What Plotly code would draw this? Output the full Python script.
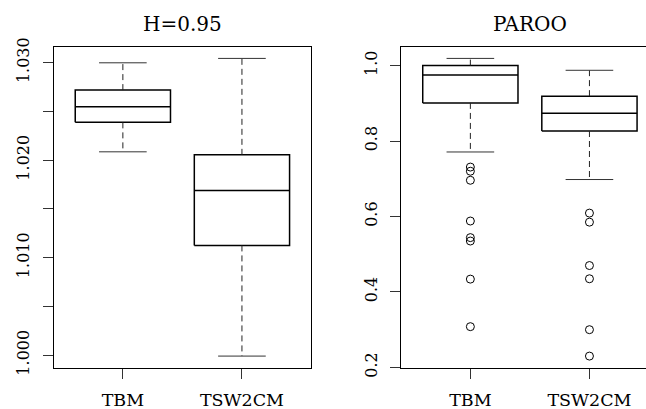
import plotly.graph_objects as go

# Groups shown in both panels
groups = ["TBM", "TSW2CM"]

# Panel "H=0.95": five-number summaries (lower whisker, Q1, median, Q3, upper whisker)
h_lower = [1.02085, 0.99990]
h_q1 = [1.02387, 1.01125]
h_median = [1.02547, 1.01689]
h_q3 = [1.02718, 1.02054]
h_upper = [1.02998, 1.03043]
h_outliers = [[], []]

# Panel "PAROO"
p_lower = [0.771, 0.698]
p_q1 = [0.901, 0.8266]
p_median = [0.975, 0.8735]
p_q3 = [1.000, 0.919]
p_upper = [1.019, 0.9875]
p_outliers = [
    [0.731, 0.720, 0.696, 0.588, 0.544, 0.535, 0.434, 0.308],
    [0.609, 0.585, 0.470, 0.435, 0.300, 0.230],
]

# Tick labels
h_tickvals = [1.000, 1.005, 1.010, 1.015, 1.020, 1.025, 1.030]
h_ticktext = ["1.000", "", "1.010", "", "1.020", "", "1.030"]
p_tickvals = [0.2, 0.4, 0.6, 0.8, 1.0]
p_ticktext = ["0.2", "0.4", "0.6", "0.8", "1.0"]

W, H = 646, 409
FONT = "DejaVu Serif"
BOX_HALF = 0.4
CAP_HALF = 0.2


def box_traces(lower, q1, med, q3, upper, outliers, xa, ya):
    traces = []
    for i, _ in enumerate(groups):
        c = i + 1
        # box outline
        traces.append(go.Scatter(
            x=[c - BOX_HALF, c + BOX_HALF, c + BOX_HALF, c - BOX_HALF, c - BOX_HALF],
            y=[q1[i], q1[i], q3[i], q3[i], q1[i]],
            mode="lines", line=dict(color="black", width=1.5),
            xaxis=xa, yaxis=ya, hoverinfo="skip"))
        # median
        traces.append(go.Scatter(
            x=[c - BOX_HALF, c + BOX_HALF], y=[med[i], med[i]],
            mode="lines", line=dict(color="black", width=1.5),
            xaxis=xa, yaxis=ya, hoverinfo="skip"))
        # dashed whiskers
        traces.append(go.Scatter(
            x=[c, c, None, c, c], y=[q3[i], upper[i], None, q1[i], lower[i]],
            mode="lines", line=dict(color="#222", width=1, dash="6px,4px"),
            xaxis=xa, yaxis=ya, hoverinfo="skip"))
        # whisker caps
        traces.append(go.Scatter(
            x=[c - CAP_HALF, c + CAP_HALF, None, c - CAP_HALF, c + CAP_HALF],
            y=[upper[i], upper[i], None, lower[i], lower[i]],
            mode="lines", line=dict(color="#333", width=1),
            xaxis=xa, yaxis=ya, hoverinfo="skip"))
        # outliers
        if outliers[i]:
            traces.append(go.Scatter(
                x=[c] * len(outliers[i]), y=outliers[i], mode="markers",
                marker=dict(symbol="circle-open", size=8, color="black",
                            line=dict(width=1, color="black")),
                xaxis=xa, yaxis=ya, hoverinfo="skip"))
    return traces


def padded_range(*arrays):
    vals = []
    for a in arrays:
        for v in a:
            if isinstance(v, list):
                vals.extend(v)
            else:
                vals.append(v)
    lo, hi = min(vals), max(vals)
    pad = 0.04 * (hi - lo)
    return [lo - pad, hi + pad]


fig = go.Figure()
for t in box_traces(h_lower, h_q1, h_median, h_q3, h_upper, h_outliers, "x", "y"):
    fig.add_trace(t)
for t in box_traces(p_lower, p_q1, p_median, p_q3, p_upper, p_outliers, "x2", "y2"):
    fig.add_trace(t)

# pixel layout of the two plotting regions
left_x0, left_x1 = 53.8, 311.0
right_x0 = 401.3
y_top, y_bot = 46.5, 368.0
px_per_unit = (left_x1 - left_x0) / 2.16
x_range_left = [0.42, 2.58]
x_range_right = [0.42, 0.42 + (W - right_x0) / px_per_unit]

ydom = [(H - y_bot) / H, (H - y_top) / H]

axis_common = dict(showgrid=False, zeroline=False, showline=True, linecolor="black",
                   linewidth=1, ticks="outside", ticklen=10, tickcolor="#333",
                   tickwidth=1, automargin=False)
xfont = dict(family=FONT, size=17.5, color="black")
yfont = dict(family=FONT, size=16, color="black")

fig.update_layout(
    width=W, height=H, margin=dict(l=0, r=0, t=0, b=0),
    paper_bgcolor="white", plot_bgcolor="white", showlegend=False,
    font=dict(family=FONT),
    xaxis=dict(domain=[left_x0 / W, left_x1 / W], range=x_range_left,
               tickvals=[1, 2], ticktext=groups, mirror=True, anchor="y",
               ticklabelstandoff=6, tickfont=xfont, **axis_common),
    yaxis=dict(domain=ydom, range=padded_range(h_lower, h_upper, h_outliers),
               tickvals=h_tickvals, ticktext=h_ticktext, tickangle=-90,
               mirror=True, anchor="x", ticklabelstandoff=7, tickfont=yfont,
               **axis_common),
    xaxis2=dict(domain=[right_x0 / W, 1.0], range=x_range_right,
                tickvals=[1, 2], ticktext=groups, mirror=True, anchor="y2",
                ticklabelstandoff=6, tickfont=xfont, **axis_common),
    yaxis2=dict(domain=ydom, range=padded_range(p_lower, p_upper, p_outliers),
                tickvals=p_tickvals, ticktext=p_ticktext, tickangle=-90,
                anchor="x2", ticklabelstandoff=7, tickfont=yfont, **axis_common),
)

# panel titles
for xref, text in [("x", "H=0.95"), ("x2", "PAROO")]:
    fig.add_annotation(x=1.5, xref=xref, y=(H - 23.5) / H, yref="paper",
                       text=text, showarrow=False, xanchor="center", yanchor="middle",
                       font=dict(family=FONT, size=20, color="black"))

fig.write_html("out.html")
